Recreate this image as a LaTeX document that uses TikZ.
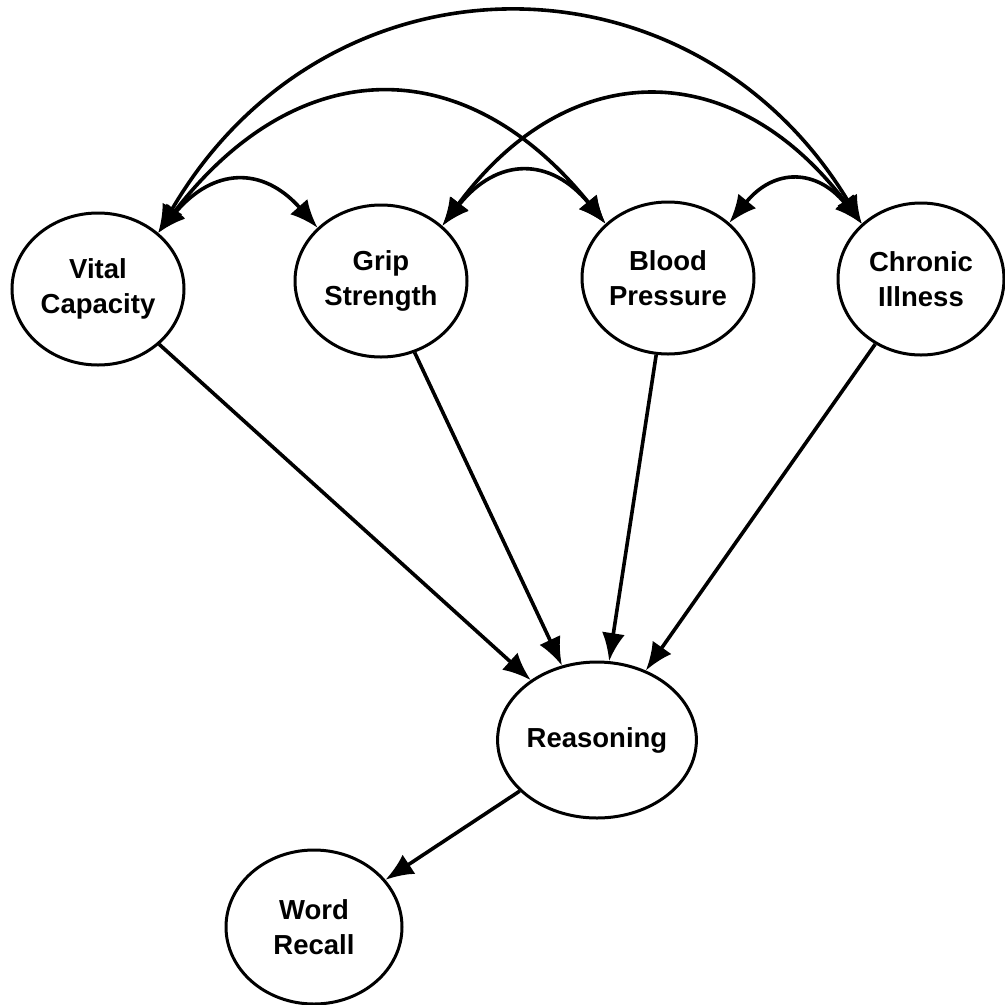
\documentclass[tikz,border=0pt]{standalone}
\usepackage{fontspec}
\setmainfont{Liberation Sans}
\usetikzlibrary{arrows.meta,calc,shapes.geometric}
\begin{document}
\begin{tikzpicture}[x=1pt,y=-1pt,
  var/.style={draw,ellipse,line width=3pt,inner sep=0pt,
    minimum width=172pt,minimum height=152pt,align=center,
    font=\fontsize{27.5}{35}\selectfont\bfseries},
  tip/.tip={Latex[length=28pt,width=23pt]},
  arr/.style={line width=3.6pt,-tip},
  cov/.style={line width=3.6pt,tip-tip}]
\useasboundingbox (0,0) rectangle (1005,1005);

% variables
\node[var] (VC) at (98,289) {Vital\\Capacity};
\node[var] (GS) at (381,281) {Grip\\Strength};
\node[var] (BP) at (668,278) {Blood\\Pressure};
\node[var,minimum width=166pt] (CI) at (921,279) {Chronic\\Illness};
\node[var,minimum width=170pt,minimum height=156pt] (R) at (597,740) {Reasoning};
\node[var,minimum width=176pt,minimum height=154pt] (WR) at (314,927) {Word\\Recall};

% correlations among the predictors
\draw[cov] (VC.43) .. controls ($(VC.43)+(169,-290)$) and ($(CI.137)+(-169,-280)$) .. (CI.137);
\draw[cov] (VC.43) .. controls ($(VC.43)+(140,-182)$) and ($(BP.139)+(-140,-174)$) .. (BP.139);
\draw[cov] (GS.42) .. controls ($(GS.42)+(127,-172)$) and ($(CI.137)+(-127,-168)$) .. (CI.137);
\draw[cov] (VC.43) .. controls ($(VC.43)+(55,-65)$) and ($(GS.140)+(-55,-62)$) .. (GS.140);
\draw[cov] (GS.42) .. controls ($(GS.42)+(55,-69)$) and ($(BP.139)+(-55,-67)$) .. (BP.139);
\draw[cov] (BP.42) .. controls ($(BP.42)+(45,-55)$) and ($(CI.137)+(-45,-55)$) .. (CI.137);

% paths
\draw[arr] (VC) -- (R);
\draw[arr] (GS) -- (R);
\draw[arr] (BP) -- (R);
\draw[arr] (CI) -- (R);
\draw[arr] (R) -- (WR);
\end{tikzpicture}
\end{document}
